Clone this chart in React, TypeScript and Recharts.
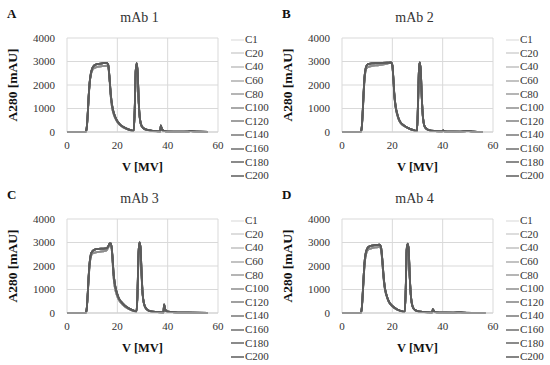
import { LineChart, Line, XAxis, YAxis, CartesianGrid, Legend } from "recharts";

// series names and their gray shades (light -> dark)
const seriesNames = ["C1", "C20", "C40", "C60", "C80", "C100", "C120", "C140", "C160", "C180", "C200"];
const seriesColors = ["#e4e4e4", "#d2d2d2", "#c0c0c0", "#aeaeae", "#9c9c9c", "#8c8c8c", "#808080", "#767676", "#6c6c6c", "#636363", "#5b5b5b"];

const xTicks = [0, 20, 40, 60];
const yTicks = [0, 1000, 2000, 3000, 4000];

// mAb 1
const mab1V = [0, 7.4, 7.8, 8.2, 8.6, 9.0, 9.5, 10, 10.8, 12, 14, 15.8, 16.4, 16.9, 17.4, 17.9, 18.5, 19.5, 21, 23, 25, 26.5, 26.9, 27.3, 27.7, 28.1, 28.5, 29, 29.7, 31, 33, 36, 37, 37.3, 37.7, 38.5, 40, 45, 48, 49, 50, 53, 56];
const mab1Hi = [0, 0, 150, 700, 1500, 2100, 2500, 2700, 2830, 2890, 2920, 2940, 2850, 2300, 1600, 1150, 850, 560, 330, 180, 90, 50, 900, 2600, 2930, 2500, 1300, 550, 250, 120, 70, 30, 20, 280, 120, 50, 20, 10, 20, 40, 30, 10, 0];
const mab1Lo = [0, 0, 130, 650, 1450, 2050, 2450, 2620, 2720, 2770, 2800, 2820, 2750, 2250, 1500, 1050, 780, 520, 300, 160, 80, 45, 850, 2550, 2880, 2450, 1250, 520, 230, 110, 60, 25, 18, 260, 110, 45, 18, 8, 18, 35, 25, 8, 0];

// mAb 2
const mab2V = [0, 7.4, 7.8, 8.2, 8.6, 9.0, 9.5, 10, 10.8, 12, 14, 16, 18, 19.5, 20, 20.4, 20.8, 21.3, 22, 23, 25, 27, 29, 29.8, 30.2, 30.6, 30.9, 31.3, 31.7, 32.2, 33, 34.5, 37, 39.8, 40.2, 40.7, 43, 47, 49.5, 50.5, 52, 56];
const mab2Hi = [0, 0, 150, 800, 1700, 2400, 2750, 2860, 2900, 2920, 2930, 2940, 2950, 2960, 2850, 2300, 1600, 1100, 750, 450, 250, 130, 60, 40, 1200, 2700, 2960, 2600, 1500, 600, 200, 80, 40, 25, 70, 30, 15, 10, 40, 40, 15, 0];
const mab2Lo = [0, 0, 130, 720, 1600, 2300, 2650, 2740, 2780, 2810, 2840, 2870, 2910, 2950, 2830, 2250, 1550, 1050, 700, 420, 230, 120, 55, 35, 1100, 2650, 2930, 2550, 1450, 570, 190, 75, 35, 22, 60, 28, 12, 8, 35, 35, 12, 0];

// mAb 3
const mab3V = [0, 7.4, 7.8, 8.2, 8.6, 9.0, 9.5, 10, 11, 12.5, 14, 15.5, 16.3, 17, 17.5, 18, 18.5, 19, 19.7, 20.5, 22, 24, 26, 27.6, 28, 28.4, 28.8, 29.2, 29.6, 30, 30.6, 31.5, 33, 36, 38.3, 38.6, 39, 40, 44, 50, 56];
const mab3Hi = [0, 0, 150, 750, 1550, 2150, 2500, 2620, 2700, 2730, 2740, 2750, 2820, 2960, 2950, 2500, 1700, 1250, 900, 650, 420, 230, 120, 70, 800, 2500, 3000, 2800, 1800, 900, 400, 180, 80, 40, 20, 370, 150, 60, 20, 10, 0];
const mab3Lo = [0, 0, 130, 700, 1450, 2050, 2400, 2520, 2570, 2600, 2620, 2650, 2760, 2930, 2920, 2400, 1550, 1100, 800, 580, 370, 200, 100, 60, 700, 2400, 2970, 2750, 1700, 850, 380, 170, 75, 35, 18, 330, 140, 55, 18, 8, 0];

// mAb 4
const mab4V = [0, 7.4, 7.8, 8.2, 8.6, 9.0, 9.5, 10, 10.8, 12, 13.5, 15, 15.5, 16, 16.5, 17, 17.6, 18.5, 20, 22, 24, 24.9, 25.3, 25.7, 26.1, 26.5, 26.9, 27.4, 28, 29, 31, 34, 35.8, 36.1, 36.6, 37.5, 40, 44, 46, 48, 52, 57];
const mab4Hi = [0, 0, 150, 750, 1550, 2200, 2580, 2740, 2830, 2870, 2890, 2910, 2800, 2300, 1600, 1100, 800, 520, 300, 150, 70, 50, 900, 2700, 2950, 2700, 1600, 700, 300, 130, 60, 30, 20, 160, 70, 30, 15, 10, 30, 20, 8, 0];
const mab4Lo = [0, 0, 130, 700, 1450, 2100, 2480, 2640, 2720, 2760, 2790, 2810, 2720, 2200, 1500, 1050, 760, 490, 280, 140, 65, 45, 850, 2650, 2920, 2650, 1550, 680, 280, 120, 55, 28, 18, 140, 60, 25, 12, 8, 25, 18, 6, 0];

const font = "'Liberation Serif', serif";

function rows(v: number[], lo: number[], hi: number[]) {
  return v.map((x, i) => ({ v: x, lo: lo[i], hi: hi[i] }));
}

function SeriesLegend() {
  return (
    <div style={{ fontFamily: font, fontSize: 11, color: "#333" }}>
      {seriesNames.map((n, i) => (
        <div key={n} style={{ height: 13.6, display: "flex", alignItems: "center" }}>
          <svg width={13} height={4} style={{ marginRight: 1 }}>
            <line x1={0} y1={2} x2={13} y2={2} stroke={seriesColors[i]} strokeWidth={1.5} />
          </svg>
          <span style={{ lineHeight: "13px" }}>{n}</span>
        </div>
      ))}
    </div>
  );
}

function Panel({ letter, title, data, left, top }: { letter: string; title: string; data: any[]; left: number; top: number }) {
  return (
    <div style={{ position: "absolute", left, top, width: 275, height: 183 }}>
      <div style={{ position: "absolute", left: 7, top: 7, fontFamily: font, fontWeight: "bold", fontSize: 13, lineHeight: "14px", color: "#111" }}>
        {letter}
      </div>
      <div style={{ position: "absolute", left: 139.5, top: 10, transform: "translateX(-50%)", fontFamily: font, fontSize: 14, lineHeight: "15px", color: "#333", whiteSpace: "nowrap" }}>
        {title}
      </div>
      <LineChart width={275} height={182} data={data} margin={{ top: 38, right: 57, bottom: 0, left: 0 }}>
        <CartesianGrid stroke="#d9d9d9" />
        <XAxis
          dataKey="v"
          type="number"
          domain={[0, 60]}
          ticks={xTicks}
          height={50}
          tickLine={false}
          tickMargin={3}
          axisLine={{ stroke: "#d0d0d0" }}
          tick={{ fontSize: 11, fontFamily: font, fill: "#333" }}
          label={{ value: "V [MV]", position: "insideBottom", offset: 11, style: { fontSize: 12.5, fontFamily: font, fontWeight: "bold", fill: "#111" } }}
        />
        <YAxis
          type="number"
          domain={[0, 4000]}
          ticks={yTicks}
          width={67}
          tickLine={false}
          axisLine={false}
          tickMargin={6}
          tick={{ fontSize: 11, fontFamily: font, fill: "#333" }}
          label={{ value: "A280 [mAU]", position: "center", angle: -90, dx: -21.5, style: { fontSize: 13.5, fontFamily: font, fontWeight: "bold", fill: "#111" } }}
        />
        <Legend
          layout="vertical"
          align="center"
          verticalAlign="middle"
          wrapperStyle={{ left: 231, top: 33, width: 44 }}
          content={() => <SeriesLegend />}
        />
        {seriesNames.map((n, i) => (
          <Line
            key={n}
            name={n}
            type="monotone"
            dataKey={i < 6 ? "lo" : "hi"}
            stroke={seriesColors[i]}
            strokeWidth={1.8}
            dot={false}
            isAnimationActive={false}
          />
        ))}
      </LineChart>
    </div>
  );
}

export default function App() {
  return (
    <div style={{ position: "absolute", left: 0, top: 0, width: 550, height: 365, background: "#fff", overflow: "hidden" }}>
      <Panel letter="A" title="mAb 1" data={rows(mab1V, mab1Lo, mab1Hi)} left={0} top={0} />
      <Panel letter="B" title="mAb 2" data={rows(mab2V, mab2Lo, mab2Hi)} left={275} top={0} />
      <Panel letter="C" title="mAb 3" data={rows(mab3V, mab3Lo, mab3Hi)} left={0} top={181} />
      <Panel letter="D" title="mAb 4" data={rows(mab4V, mab4Lo, mab4Hi)} left={275} top={181} />
    </div>
  );
}
